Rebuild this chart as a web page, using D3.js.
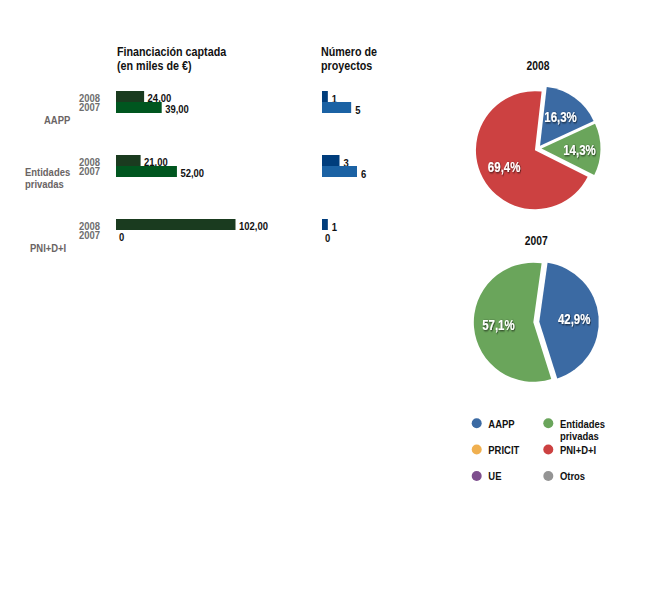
<!DOCTYPE html>
<html>
<head>
<meta charset="utf-8">
<script src="https://cdn.jsdelivr.net/npm/d3@7"></script>
<style>
body{margin:0;background:#fff;}
svg text{font-family:"Liberation Sans",Arial,sans-serif;font-weight:bold;}
</style>
</head>
<body>
<svg id="c" width="665" height="590"></svg>
<script>
const categories = ["AAPP", "Entidades privadas", "PNI+D+I"];
const years = ["2008", "2007"];
const funding2008 = [24, 21, 102];
const funding2007 = [39, 52, 0];
const projects2008 = [1, 3, 1];
const projects2007 = [5, 6, 0];
const fundingLabels2008 = ["24,00", "21,00", "102,00"];
const fundingLabels2007 = ["39,00", "52,00", "0"];
const pie2008 = [{name:"AAPP", value:16.3, label:"16,3%"}, {name:"Entidades privadas", value:14.3, label:"14,3%"}, {name:"PNI+D+I", value:69.4, label:"69,4%"}];
const pie2007 = [{name:"AAPP", value:42.9, label:"42,9%"}, {name:"Entidades privadas", value:57.1, label:"57,1%"}];
const legendItems = ["AAPP", "Entidades privadas", "PRICIT", "PNI+D+I", "UE", "Otros"];
const legendColors = ["#3b6aa3", "#6aa55b", "#f0b050", "#cc4141", "#7e4f8e", "#949494"];

const svg = d3.select("#c");
const defs = svg.append("defs");
const f = defs.append("filter").attr("id","sh").attr("x","-20%").attr("y","-30%").attr("width","140%").attr("height","160%");
f.append("feDropShadow").attr("dx",0.8).attr("dy",0.8).attr("stdDeviation",0.9).attr("flood-color","#000").attr("flood-opacity",0.8);

const SX = 0.86;
function txt(parent, x, y, s, size, fill, anchor, sx) {
  return parent.append("text")
    .attr("transform", `translate(${x},${y}) scale(${sx || SX},1)`)
    .attr("font-size", size).attr("fill", fill).attr("text-anchor", anchor || "start").text(s);
}

// Headers
txt(svg, 117, 56, "Financiación captada", 12.5, "#111");
txt(svg, 117, 70, "(en miles de €)", 12.5, "#111");
txt(svg, 321, 56, "Número de", 12.5, "#111");
txt(svg, 321, 70, "proyectos", 12.5, "#111");

const groupY = d3.scalePoint().domain(categories).range([91, 219]);
const barY = d3.scaleBand().domain(years).range([0, 22]).padding(0);
const xF = d3.scaleLinear().domain([0, 102]).range([116, 235.5]);
const xP = d3.scaleLinear().domain([0, 6]).range([322, 357]);
const fundColors = {"2008":"#1a3b1f", "2007":"#00561f"};
const projColors = {"2008":"#003d7c", "2007":"#1b62a4"};

const catLabelPos = {
  "AAPP": [{t:"AAPP", x:44, y:123.5}],
  "Entidades privadas": [{t:"Entidades", x:25, y:176}, {t:"privadas", x:25, y:187.5}],
  "PNI+D+I": [{t:"PNI+D+I", x:30, y:251.5}]
};

categories.forEach((c, i) => {
  const g = svg.append("g").attr("transform", `translate(0,${groupY(c)})`);
  const rows = [
    {yr:"2008", f:funding2008[i], fl:fundingLabels2008[i], p:projects2008[i]},
    {yr:"2007", f:funding2007[i], fl:fundingLabels2007[i], p:projects2007[i]}
  ];
  // year labels as one text block with two lines
  const yt = g.append("text").attr("transform", `translate(100,11) scale(${SX},1)`)
    .attr("font-size", 11).attr("fill", "#6e6e6e").attr("text-anchor", "end");
  years.forEach((yr, k) => yt.append("tspan").attr("x", 0).attr("dy", k === 0 ? 0 : 9).text(yr));
  rows.forEach((r, k) => {
    const y0 = barY(r.yr), h = barY.bandwidth();
    g.append("rect").attr("x", xF(0)).attr("y", y0).attr("width", xF(r.f)-xF(0)).attr("height", h).attr("fill", fundColors[r.yr]);
    txt(g, xF(r.f) + (r.f > 0 ? 3.5 : 3), y0 + h - 0.5, r.fl, 11, "#111");
    g.append("rect").attr("x", xP(0)).attr("y", y0).attr("width", xP(r.p)-xP(0)).attr("height", h).attr("fill", projColors[r.yr]);
    txt(g, xP(r.p) + (r.p > 0 ? 4 : 3), y0 + h + 0.6, String(r.p), 11, "#111");
  });
  catLabelPos[c].forEach(l => txt(svg, l.x, l.y, l.t, 11, "#6a6464"));
});

const colorOf = n => legendColors[legendItems.indexOf(n)];

function drawPie(data, cx, cy, r, rot, explode, title, titleY, labelOffsets) {
  txt(svg, cx, titleY, title, 12, "#111", "middle");
  const a0 = rot * Math.PI / 180;
  const pie = d3.pie().sort(null).value(d => d.value).startAngle(a0).endAngle(a0 + 2 * Math.PI);
  const arc = d3.arc().innerRadius(0).outerRadius(r);
  const lab = d3.arc().innerRadius(35).outerRadius(35);
  const g = svg.append("g").attr("transform", `translate(${cx},${cy})`);
  pie(data).forEach((d, i) => {
    const a = (d.startAngle + d.endAngle) / 2;
    const dx = Math.sin(a) * explode, dy = -Math.cos(a) * explode;
    const sg = g.append("g").attr("transform", `translate(${dx},${dy})`);
    sg.append("path").attr("d", arc(d)).attr("fill", colorOf(d.data.name));
    const c = lab.centroid(d);
    const o = labelOffsets[i] || [0, 0];
    txt(sg, c[0] + o[0], c[1] + o[1] + 5, d.data.label, 14, "#fff", "middle", 0.82).attr("filter", "url(#sh)");
  });
}
drawPie(pie2008, 538, 148.5, 59, 6.5, 3.5, "2008", 70, [[0,0],[3,1],[0,0]]);
drawPie(pie2007, 536.3, 322, 59.5, 8, 3, "2007", 244.5, [[0,0],[0,0]]);

// Legend
const legX = [476.7, 548.3], legY = [423.3, 449.5, 476];
legendItems.forEach((n, i) => {
  const col = i % 2, row = Math.floor(i / 2);
  const x = legX[col], y = legY[row];
  svg.append("circle").attr("cx", x).attr("cy", y).attr("r", 5).attr("fill", legendColors[i]);
  const parts = n === "Entidades privadas" ? ["Entidades", "privadas"] : [n];
  parts.forEach((p, k) => txt(svg, x + 11.6, y + 4.4 + k * 12.5, p, 11, "#111"));
});
</script>
</body>
</html>
